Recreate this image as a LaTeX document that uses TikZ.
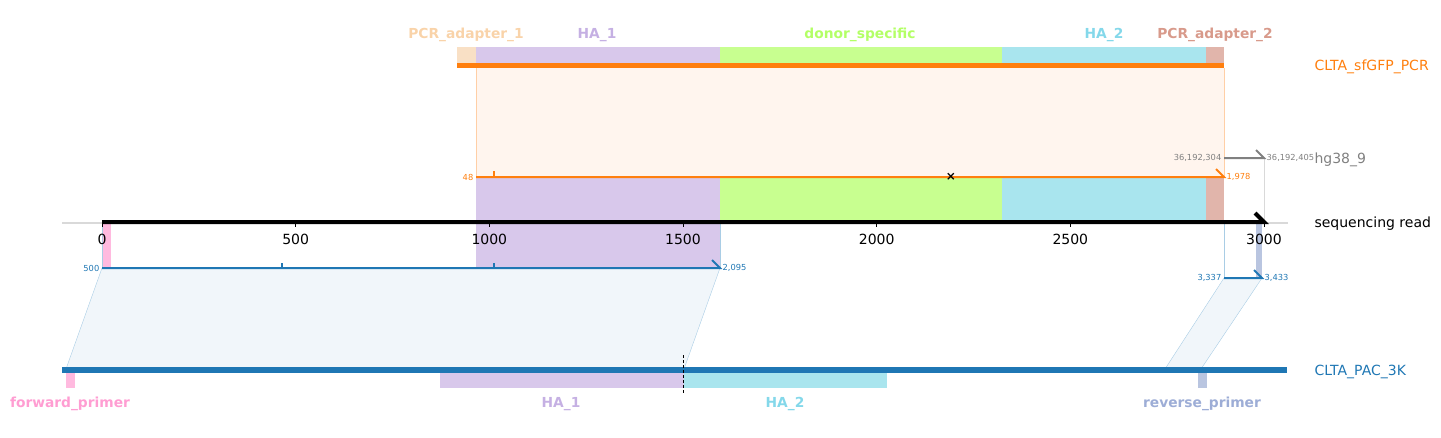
\documentclass[tikz,border=0pt]{standalone}
\usepackage{fontspec}
\setmainfont{DejaVu Sans}
\usepackage{tikz}
\definecolor{pcrorange}{HTML}{FF7F0E}
\definecolor{pacblue}{HTML}{1F77B4}
\definecolor{adapterone}{HTML}{F9E0C5}
\definecolor{adapteronetext}{HTML}{F9D3A9}
\definecolor{homarmone}{HTML}{D8C8EB}
\definecolor{homarmonetext}{HTML}{C5B0E3}
\definecolor{donorgreen}{HTML}{C8FF90}
\definecolor{donorgreentext}{HTML}{B3FF66}
\definecolor{homarmtwo}{HTML}{A9E5EE}
\definecolor{homarmtwotext}{HTML}{84D8EA}
\definecolor{adaptertwo}{HTML}{E1B5AB}
\definecolor{adaptertwotext}{HTML}{D89A8B}
\definecolor{fwdpink}{HTML}{FFBADF}
\definecolor{fwdpinktext}{HTML}{FF9DD2}
\definecolor{revslate}{HTML}{B9C5E0}
\definecolor{revslatetext}{HTML}{9DADD6}
\definecolor{orangezone}{HTML}{FFF5EE}
\definecolor{orangeedge}{HTML}{FFCFA6}
\definecolor{bluezone}{HTML}{F1F6FA}
\definecolor{blueedge}{HTML}{A9CDE5}
\definecolor{refgray}{HTML}{808080}

\begin{document}
\begin{tikzpicture}[x=1pt,y=-1pt,
  featlabel/.style={font=\bfseries\fontsize{13.8}{16}\selectfont},
  seqlabel/.style={font=\fontsize{14}{16}\selectfont, anchor=west},
  ticklabel/.style={font=\fontsize{14}{16}\selectfont, anchor=north},
  poslabel/.style={font=\fontsize{8.3}{9}\selectfont, inner sep=1.5pt}]
\useasboundingbox (0,0) rectangle (1441,437);
% objects at depth 100:
\path[fill=orangezone] (476,68) rectangle (1224,177);
\path[fill=bluezone] (102,268) -- (720,268) -- (684,369) -- (66,369) -- cycle;
\path[fill=bluezone] (1224,278) -- (1262,278) -- (1201,369) -- (1165,369) -- cycle;
\draw[blueedge] (102,268) -- (66,369);
\draw[blueedge] (720,268) -- (684,369);
\draw[blueedge] (1224,278) -- (1165,369);
\draw[blueedge] (1262,278) -- (1201,369);
% objects at depth 75:
\path[fill=homarmone] (476,177) rectangle (720,268);
\path[fill=donorgreen] (720,177) rectangle (1002,222);
\path[fill=homarmtwo] (1002,177) rectangle (1206,222);
\path[fill=adaptertwo] (1206,177) rectangle (1224,222);
\path[fill=fwdpink] (102,222) rectangle (111,268);
\path[fill=revslate] (1256,222) rectangle (1262,278);
\draw[orangeedge] (476,68) -- (476,177);
\draw[orangeedge] (1224,68) -- (1224,177);
\draw[black!15] (1264,158) -- (1264,222);
\draw[blueedge] (102,222) -- (102,268);
\draw[blueedge] (720,222) -- (720,268);
\draw[blueedge] (1224,222) -- (1224,278);
% CLTA_sfGFP_PCR
\path[fill=adapterone] (457,47) rectangle (476,63);
\path[fill=homarmone] (476,47) rectangle (720,63);
\path[fill=donorgreen] (720,47) rectangle (1002,63);
\path[fill=homarmtwo] (1002,47) rectangle (1206,63);
\path[fill=adaptertwo] (1206,47) rectangle (1224,63);
\path[fill=pcrorange] (457,63) rectangle (1224,68);
\node[featlabel, text=adapteronetext] (pcrA1) at (466,35) {PCR\_adapter\_1};
\node[featlabel, text=homarmonetext] (pcrH1) at (597,35) {HA\_1};
\node[featlabel, text=donorgreentext] (pcrDS) at (860,35) {donor\_specific};
\node[featlabel, text=homarmtwotext] (pcrH2) at (1104,35) {HA\_2};
\node[featlabel, text=adaptertwotext] (pcrA2) at (1215,35) {PCR\_adapter\_2};
\node[seqlabel, text=pcrorange] (pcrname) at (1311,67) {CLTA\_sfGFP\_PCR};
% CLTA_PAC_3K
\path[fill=pacblue] (62,367) rectangle (1287,373);
\path[fill=fwdpink] (66,373) rectangle (75,388);
\path[fill=homarmone] (440,373) rectangle (684,388);
\path[fill=homarmtwo] (684,373) rectangle (887,388);
\path[fill=revslate] (1198,373) rectangle (1207,388);
\draw[black, dash pattern=on 3pt off 2pt] (683,355) -- (683,394);
\node[featlabel, text=fwdpinktext] (pacFP) at (70,404) {forward\_primer};
\node[featlabel, text=homarmonetext] (pacH1) at (561,404) {HA\_1};
\node[featlabel, text=homarmtwotext] (pacH2) at (785,404) {HA\_2};
\node[featlabel, text=revslatetext] (pacRP) at (1202,404) {reverse\_primer};
\node[seqlabel, text=pacblue] (pacname) at (1311,372) {CLTA\_PAC\_3K};
% objects at depth 50:
\draw[black!15, line width=1.2pt] (62,223) -- (1288,223);
\draw[black, line width=4pt] (102,222) -- (1264,222) -- (1255,213);
\foreach \bp in {0,500,...,3000} {
  \draw[black] ({102+\bp*0.38733},222) -- ++(0,5);
  \node[ticklabel] (tick\bp) at ({102+\bp*0.38733},231) {\bp};
}
\node[seqlabel] (readname) at (1311,224) {sequencing read};
% alignments
\draw[pcrorange, line width=2pt] (476,177) -- (1224,177) -- (1216,169);
\draw[pcrorange, line width=1.2pt] (494,177) -- (494,171);
\node[poslabel, text=pcrorange, anchor=east] (pcrstart) at (475,177) {48};
\node[poslabel, text=pcrorange, anchor=west] (pcrend) at (1225,177) {1,978};
\node[font=\bfseries\fontsize{12}{12}\selectfont, inner sep=0pt] (mismatch) at (951,176.5) {×};
\draw[refgray, line width=2pt] (1224,158) -- (1264,158) -- (1256,150);
\node[poslabel, text=refgray, anchor=east] (refstart) at (1223,158) {36,192,304};
\node[poslabel, text=refgray, anchor=west] (refend) at (1265,158) {36,192,405};
\node[seqlabel, text=refgray] (refname) at (1311,160) {hg38\_9};
\draw[pacblue, line width=2pt] (102,268) -- (720,268) -- (712,260);
\draw[pacblue, line width=1.2pt] (282,268) -- (282,263);
\draw[pacblue, line width=1.2pt] (494,268) -- (494,263);
\node[poslabel, text=pacblue, anchor=east] (pacstart) at (101,268) {500};
\node[poslabel, text=pacblue, anchor=west] (pacend) at (721,268) {2,095};
\draw[pacblue, line width=2pt] (1224,278) -- (1262,278) -- (1254,270);
\node[poslabel, text=pacblue, anchor=east] (pacstartb) at (1223,278) {3,337};
\node[poslabel, text=pacblue, anchor=west] (pacendb) at (1263,278) {3,433};
\end{tikzpicture}
\end{document}
